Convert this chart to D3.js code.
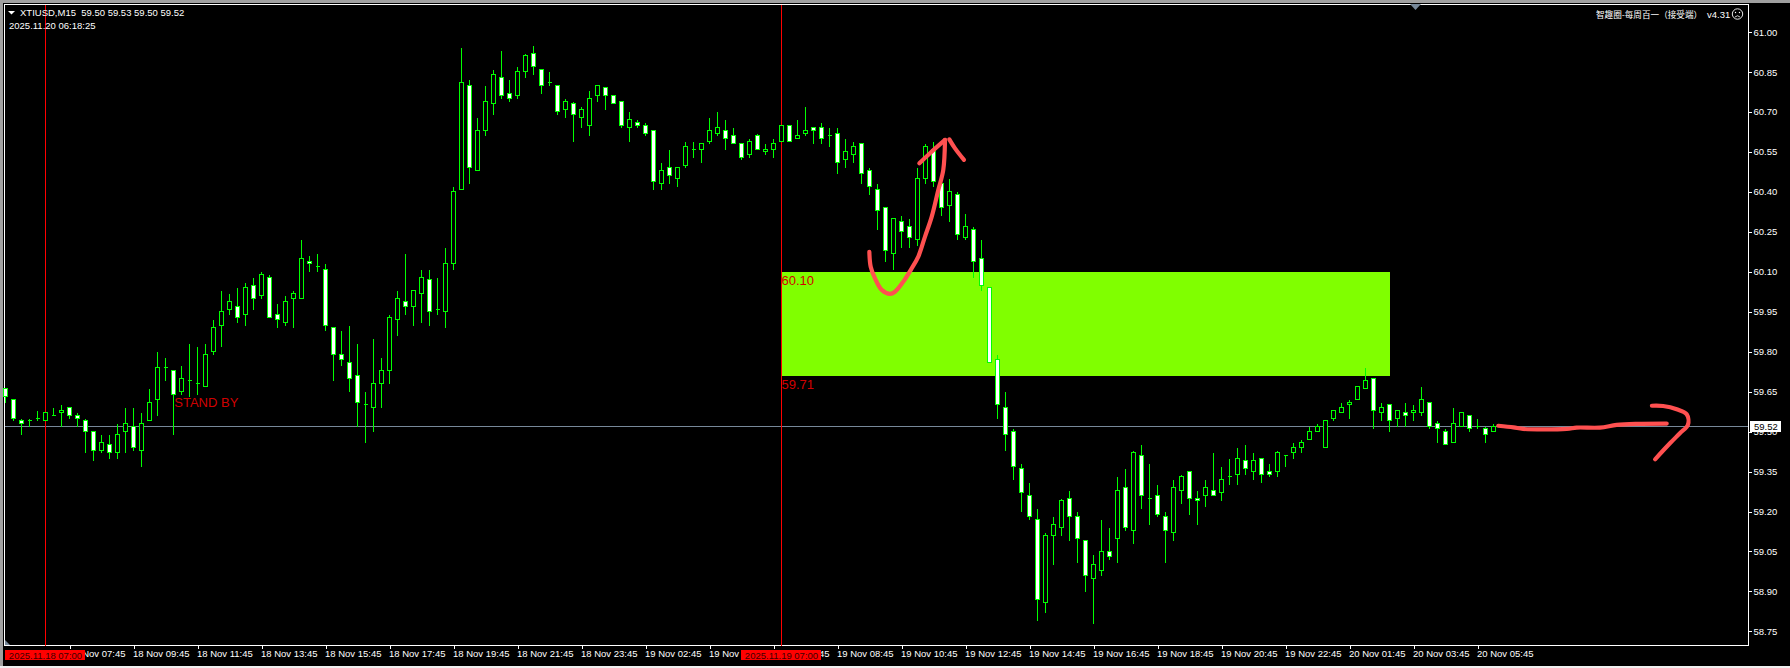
<!DOCTYPE html>
<html><head><meta charset="utf-8">
<script src="https://cdn.jsdelivr.net/npm/d3@7/dist/d3.min.js"></script>
<style>
html,body{margin:0;padding:0;background:#000;overflow:hidden}
svg{display:block}
text{font-family:"Liberation Sans",Arial,sans-serif;font-size:9.5px;fill:#fff}
</style></head><body>
<script>
const open=[59.66,59.62,59.54,59.54,59.55,59.54,59.56,59.57,59.59,59.56,
59.54,59.50,59.43,59.45,59.42,59.50,59.52,59.43,59.54,59.62,
59.74,59.73,59.65,59.69,59.68,59.67,59.80,59.90,59.96,59.97,
59.94,60.05,60.01,60.08,59.94,59.91,60.00,60.00,60.14,60.12,
60.11,59.89,59.79,59.76,59.71,59.60,59.59,59.68,59.73,59.92,
59.99,59.97,60.02,60.07,59.96,59.95,60.13,60.41,60.80,60.48,
60.63,60.73,60.83,60.77,60.76,60.85,60.92,60.86,60.81,60.80,
60.71,60.73,60.68,60.65,60.76,60.79,60.76,60.74,60.64,60.66,
60.65,60.63,60.43,60.49,60.45,60.50,60.56,60.56,60.59,60.62,
60.63,60.61,60.58,60.54,60.61,60.55,60.56,60.59,60.65,60.60,
60.62,60.64,60.64,60.61,60.62,60.52,60.54,60.58,60.48,60.41,
60.34,60.17,60.29,60.27,60.22,60.45,60.56,60.43,60.35,60.39,
60.23,60.26,60.15,60.04,59.77,59.59,59.50,59.36,59.26,59.17,
58.86,59.11,59.14,59.25,59.18,59.09,58.95,58.98,59.05,59.10,
59.29,59.13,59.41,59.25,59.26,59.18,59.12,59.28,59.35,59.25,
59.26,59.28,59.27,59.33,59.34,59.39,59.35,59.40,59.35,59.35,
59.41,59.42,59.44,59.47,59.50,59.44,59.55,59.57,59.60,59.62,
59.66,59.70,59.57,59.60,59.55,59.57,59.57,59.57,59.61,59.53,
59.50,59.46,59.52,59.56,59.52,59.51,59.50];
const high=[59.66,59.62,59.55,59.55,59.58,59.57,59.59,59.60,59.59,59.57,
59.55,59.50,59.49,59.49,59.53,59.59,59.59,59.57,59.66,59.80,
59.78,59.73,59.75,59.83,59.82,59.83,59.92,60.03,60.02,60.04,
60.06,60.08,60.10,60.09,59.98,60.01,60.03,60.22,60.16,60.17,
60.13,59.89,59.88,59.90,59.83,59.65,59.85,59.78,59.94,60.03,
60.17,60.03,60.11,60.11,60.08,60.19,60.42,60.94,60.82,60.68,
60.80,60.86,60.93,60.82,60.87,60.92,60.95,60.86,60.85,60.80,
60.75,60.74,60.72,60.78,60.80,60.79,60.76,60.74,60.70,60.67,
60.66,60.63,60.51,60.56,60.49,60.59,60.59,60.58,60.68,60.70,
60.67,60.64,60.58,60.60,60.62,60.58,60.60,60.65,60.65,60.67,
60.72,60.64,60.66,60.64,60.64,60.60,60.59,60.58,60.49,60.43,
60.34,60.30,60.31,60.30,60.49,60.58,60.59,60.43,60.45,60.40,
60.32,60.27,60.22,60.04,59.79,59.65,59.51,59.38,59.31,59.21,
59.12,59.18,59.25,59.28,59.20,59.09,59.04,59.17,59.14,59.33,
59.36,59.43,59.45,59.38,59.30,59.20,59.32,59.34,59.35,59.28,
59.32,59.42,59.37,59.40,59.44,59.45,59.42,59.40,59.38,59.43,
59.41,59.46,59.47,59.52,59.53,59.54,59.58,59.61,59.62,59.67,
59.74,59.70,59.61,59.60,59.58,59.61,59.60,59.67,59.61,59.54,
59.51,59.59,59.57,59.56,59.55,59.52,59.53];
const low=[59.61,59.54,59.49,59.52,59.54,59.54,59.56,59.52,59.55,59.52,
59.42,59.39,59.42,59.40,59.40,59.42,59.43,59.37,59.54,59.56,
59.69,59.49,59.64,59.63,59.64,59.67,59.79,59.82,59.94,59.91,
59.90,59.96,60.00,59.93,59.89,59.90,59.89,60.00,60.10,60.10,
59.88,59.69,59.75,59.65,59.52,59.46,59.50,59.59,59.68,59.86,
59.94,59.90,59.91,59.90,59.94,59.89,60.11,60.41,60.43,60.48,
60.61,60.69,60.75,60.74,60.75,60.83,60.84,60.77,60.80,60.69,
60.68,60.59,60.64,60.61,60.74,60.71,60.73,60.64,60.59,60.64,
60.61,60.41,60.41,60.43,60.42,60.49,60.53,60.51,60.58,60.61,
60.56,60.58,60.52,60.53,60.56,60.54,60.53,60.59,60.59,60.60,
60.61,60.58,60.58,60.57,60.47,60.49,60.51,60.43,60.39,60.26,
60.14,60.11,60.19,60.19,60.20,60.43,60.42,60.31,60.29,60.22,
60.22,60.08,60.03,59.76,59.55,59.43,59.32,59.20,59.17,58.79,
58.82,59.00,59.11,59.09,59.01,58.90,58.78,58.96,59.02,59.01,
59.13,59.08,59.21,59.15,59.18,59.01,59.09,59.23,59.19,59.15,
59.22,59.26,59.24,59.30,59.30,59.34,59.32,59.31,59.33,59.33,
59.37,59.40,59.42,59.47,59.50,59.44,59.54,59.57,59.55,59.62,
59.66,59.51,59.54,59.50,59.52,59.52,59.54,59.56,59.51,59.46,
59.45,59.46,59.52,59.50,59.51,59.46,59.50];
const close=[59.63,59.55,59.53,59.54,59.55,59.57,59.56,59.58,59.56,59.55,
59.50,59.43,59.46,59.42,59.49,59.53,59.44,59.53,59.61,59.74,
59.74,59.64,59.70,59.69,59.68,59.79,59.89,59.95,59.99,59.93,
60.04,60.00,60.09,59.93,59.92,59.99,60.02,60.15,60.13,60.12,
59.90,59.79,59.77,59.70,59.61,59.60,59.68,59.73,59.93,60.00,
59.97,60.03,60.08,59.95,59.96,60.13,60.40,60.81,60.49,60.63,
60.74,60.84,60.76,60.75,60.85,60.91,60.87,60.80,60.81,60.70,
60.74,60.69,60.71,60.75,60.80,60.76,60.73,60.65,60.67,60.65,
60.62,60.44,60.48,60.46,60.49,60.57,60.56,60.58,60.63,60.64,
60.60,60.58,60.53,60.59,60.56,60.56,60.58,60.65,60.59,60.61,
60.63,60.63,60.60,60.61,60.51,60.55,60.57,60.47,60.42,60.33,
60.18,60.30,60.25,60.23,60.45,60.57,60.44,60.34,60.40,60.24,
60.27,60.14,60.05,59.76,59.60,59.49,59.37,59.27,59.18,58.87,
59.11,59.15,59.24,59.18,59.10,58.96,59.00,59.05,59.03,59.28,
59.14,59.42,59.26,59.25,59.19,59.13,59.29,59.33,59.25,59.24,
59.29,59.26,59.32,59.33,59.40,59.36,59.39,59.34,59.34,59.42,
59.41,59.44,59.46,59.50,59.52,59.54,59.58,59.59,59.61,59.67,
59.69,59.58,59.59,59.54,59.58,59.56,59.58,59.62,59.52,59.51,
59.45,59.53,59.57,59.51,59.52,59.49,59.52];

const priceTicks=[61.00,60.85,60.70,60.55,60.40,60.25,60.10,59.95,59.80,59.65,59.50,59.35,59.20,59.05,58.90,58.75];
const timeLabels=["18 Nov 05:45","18 Nov 07:45","18 Nov 09:45","18 Nov 11:45","18 Nov 13:45","18 Nov 15:45","18 Nov 17:45","18 Nov 19:45","18 Nov 21:45","18 Nov 23:45",
"19 Nov 02:45","19 Nov 04:45","19 Nov 06:45","19 Nov 08:45","19 Nov 10:45","19 Nov 12:45","19 Nov 14:45","19 Nov 16:45","19 Nov 18:45","19 Nov 20:45","19 Nov 22:45",
"20 Nov 01:45","20 Nov 03:45","20 Nov 05:45"];
const timeBarStep=8;
const currentPrice=59.52;
const zoneTop=60.10, zoneBottom=59.71, zoneStartBar=97, zoneEndBar=173;
const verticalBars=[5,97];
const verticalTags=["2025.11.18 07:00","2025.11.19 07:00"];
const standByBar=21.1, standByPrice=59.594;
const strokeCurve=[[107.98,60.175],[108.15,60.119],[108.69,60.075],[109.53,60.032],[110.56,60.017],[111.19,60.025],[112.23,60.063],[113.28,60.113],[114.1,60.157],[114.94,60.232],[115.78,60.307],[116.6,60.407],[117.22,60.482],[117.44,60.595]];
const strokeHeadLeft=[[114.23,60.507],[115.56,60.545],[117.44,60.595]];
const strokeHeadRight=[[117.98,60.597],[118.69,60.563],[119.81,60.52]];
const strokeFlat=[[186.6,59.522],[188.5,59.516],[189.7,59.51],[195.15,59.51],[196.4,59.515],[199.3,59.515],[201.4,59.525],[203.9,59.529],[207.65,59.53]];
const strokeFlatHead=[[205.8,59.597],[207.2,59.596],[208.9,59.584],[210.15,59.565],[210.3,59.525],[209.3,59.494],[208.06,59.456],[206.2,59.396]];

const W=1790,H=668,L=4.5,T=4.5,R=1748.5,B=645.5;
const x=d3.scaleLinear().domain([0,186]).range([5.5,1493.5]);
const y=d3.scaleLinear().domain([61,58.75]).range([32,631.4]);
const sy=v=>Math.floor(y(v))+.5;
const bars=open.map((o,i)=>({i,o,h:high[i],l:low[i],c:close[i]}));

const svg=d3.select("body").append("svg").attr("width",W).attr("height",H).attr("viewBox",`0 0 ${W} ${H}`);
svg.append("rect").attr("width",W).attr("height",H).attr("fill","#000");
// window chrome
const crisp=svg.append("g").attr("shape-rendering","crispEdges");
crisp.append("rect").attr("x",0).attr("y",0).attr("width",W).attr("height",3).attr("fill","#a0a0a0");
crisp.append("rect").attr("x",0).attr("y",0).attr("width",3).attr("height",H).attr("fill","#a0a0a0");
crisp.append("rect").attr("x",0).attr("y",666).attr("width",W).attr("height",2).attr("fill","#f0f0f0");

// zone
crisp.append("rect").attr("x",x(zoneStartBar)).attr("y",y(zoneTop)).attr("width",x(zoneEndBar)-x(zoneStartBar)).attr("height",y(zoneBottom)-y(zoneTop)).attr("fill","#80ff00");
// current price line
crisp.append("line").attr("x1",L).attr("x2",R).attr("y1",sy(currentPrice)).attr("y2",sy(currentPrice)).attr("stroke","#778899");

// candles
const g=svg.append("g").attr("shape-rendering","crispEdges");
g.selectAll("line.w").data(bars).join("line").attr("class","w")
 .attr("x1",d=>x(d.i)).attr("x2",d=>x(d.i)).attr("y1",d=>sy(d.h)).attr("y2",d=>sy(d.l)+.5).attr("stroke","#00ff00");
g.selectAll("path.b").data(bars).join("path").attr("class","b")
 .attr("d",d=>{const a=sy(Math.max(d.o,d.c)),b=sy(Math.min(d.o,d.c)),l=x(d.i)-2,r=x(d.i)+2;return `M${l} ${a}H${r}V${b}H${l}Z`;})
 .attr("fill",d=>d.c<d.o?"#fff":"#000").attr("stroke","#00ff00");

// frame
crisp.append("rect").attr("x",L).attr("y",T).attr("width",R-L).attr("height",B-T).attr("fill","none").attr("stroke","#fff");

// axes
const ay=svg.append("g").attr("transform",`translate(${R},0)`).call(d3.axisRight(y).tickValues(priceTicks).tickFormat(d3.format(".2f")).tickSize(3).tickPadding(2));
ay.select(".domain").remove();
ay.selectAll("line").attr("stroke","#fff").attr("shape-rendering","crispEdges");
ay.selectAll("text").attr("fill","#fff");
const ax=svg.append("g").attr("transform",`translate(0,${B})`).call(d3.axisBottom(x).tickValues(timeLabels.map((_,k)=>k*timeBarStep)).tickFormat((_,k)=>timeLabels[k]).tickSize(3).tickPadding(2));
ax.select(".domain").remove();
ax.selectAll("line").attr("stroke","#fff").attr("shape-rendering","crispEdges");
ax.selectAll("text").attr("text-anchor","start").attr("x",-1).attr("fill","#fff");
ax.selectAll(".tick").filter((d,k)=>k===0).select("line").remove();

// current price tag
svg.append("rect").attr("x",1750).attr("y",sy(currentPrice)-5.5).attr("width",31).attr("height",11).attr("fill","#fff").attr("shape-rendering","crispEdges");
svg.append("text").attr("x",1754).attr("y",sy(currentPrice)+3.5).style("fill","#000").text(d3.format(".2f")(currentPrice));

// vertical lines + tags
verticalBars.forEach((b,k)=>{
  crisp.append("line").attr("x1",x(b)).attr("x2",x(b)).attr("y1",T).attr("y2",B).attr("stroke","#ff0000");
  svg.append("rect").attr("x",x(b)-40.5).attr("y",650).attr("width",80).attr("height",10).attr("fill","#ff0000").attr("shape-rendering","crispEdges");
  svg.append("text").attr("x",x(b)).attr("y",658.5).attr("text-anchor","middle").style("fill","#400000").text(verticalTags[k]);
});

// zone + status labels
const red=(t,px,py)=>svg.append("text").attr("x",px).attr("y",py).style("fill","#d00000").style("font-size","13px").text(t);
red(d3.format(".2f")(zoneTop),x(zoneStartBar),y(zoneTop)+13);
red(d3.format(".2f")(zoneBottom),x(zoneStartBar),y(zoneBottom)+13);
red("STAND BY",x(standByBar),y(standByPrice));

// header text
svg.append("path").attr("d","M8 11H15L11.5 14.5Z").attr("fill","#fff");
svg.append("text").attr("x",20).attr("y",16).attr("xml:space","preserve").style("white-space","pre").text("XTIUSD,M15  59.50 59.53 59.50 59.52");
svg.append("text").attr("x",9).attr("y",29).text("2025.11.20 06:18:25");
svg.append("text").attr("x",1596).attr("y",18).style("font-family",'"Noto Sans CJK SC"').style("font-size","8.6px").text("智趣圈-每周百一（接受端）");
svg.append("text").attr("x",1707).attr("y",18).text("v4.31");
svg.append("circle").attr("cx",1737.5).attr("cy",14).attr("r",5.2).attr("fill","none").attr("stroke","#fff").attr("stroke-width",.9);
svg.append("circle").attr("cx",1735.5).attr("cy",12.5).attr("r",.7).attr("fill","#fff");
svg.append("circle").attr("cx",1739.5).attr("cy",12.5).attr("r",.7).attr("fill","#fff");
svg.append("path").attr("d","M1735 17Q1737.5 14.5 1740 17").attr("fill","none").attr("stroke","#fff").attr("stroke-width",.8);
svg.append("path").attr("d","M1410 4H1421L1415.5 10Z").attr("fill","#778899");
svg.append("path").attr("d","M5 640L10 645H5Z").attr("fill","#778899");

// hand-drawn annotation
const pen=d3.line().x(d=>x(d[0])).y(d=>y(d[1])).curve(d3.curveCatmullRom);
[strokeCurve,strokeHeadLeft,strokeHeadRight,strokeFlat,strokeFlatHead].forEach(s=>{
  svg.append("path").attr("d",pen(s)).attr("fill","none").attr("stroke","#ff5050").attr("stroke-width",4.2).attr("stroke-linecap","round").attr("stroke-linejoin","round");
});
</script>
</body></html>
